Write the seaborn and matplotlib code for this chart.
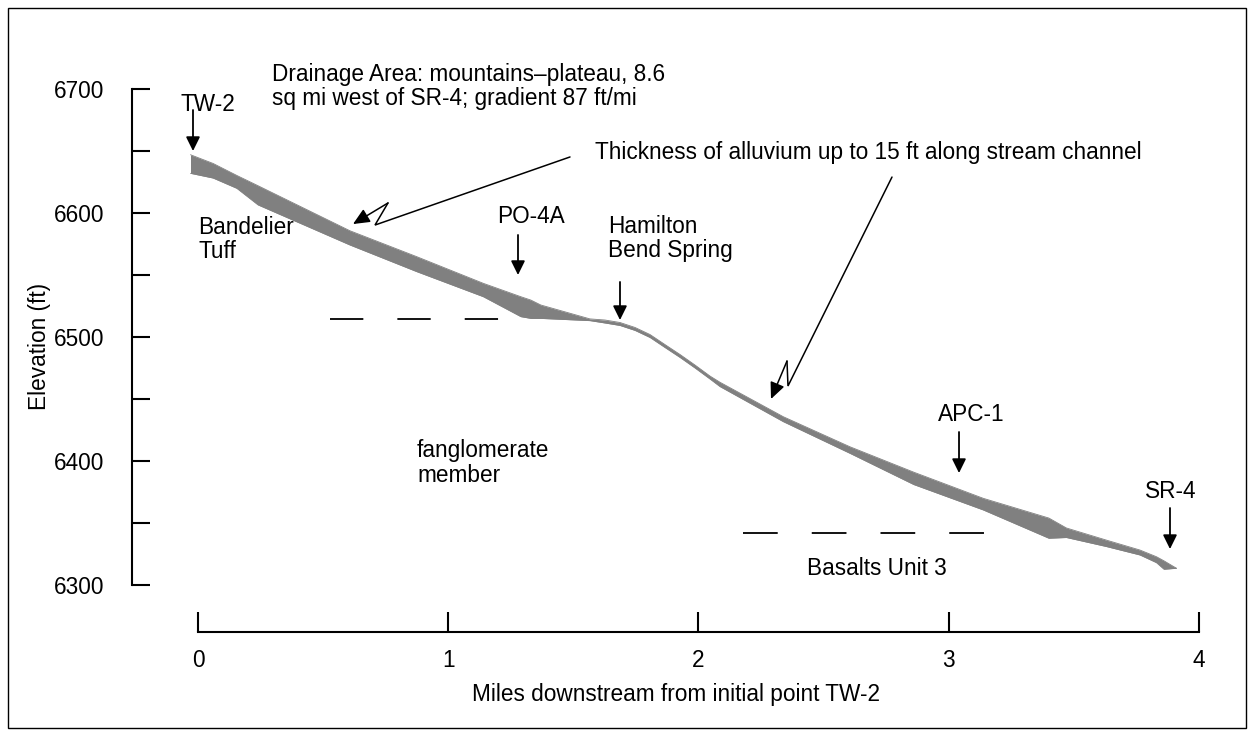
import numpy as np
import pandas as pd
import matplotlib
matplotlib.use("Agg")
import matplotlib.pyplot as plt
from matplotlib.patches import Rectangle
import seaborn as sns

# ---------------- data ----------------
miles = [-0.03, 0.06, 0.155, 0.24, 0.607, 0.874, 1.14, 1.29, 1.33, 1.37, 1.5664,
         1.6264, 1.6863, 1.7463, 1.8062, 1.8661, 1.9261, 1.9860, 2.0460, 2.0859,
         2.339, 2.605, 2.86, 3.138, 3.40, 3.47, 3.63, 3.764, 3.83, 3.86, 3.91]
top_of_alluvium = [6647, 6640, 6630.3, 6622, 6585.7, 6564.8, 6543.3, 6532.5, 6529.8,
                   6525.8, 6514.6, 6513.7, 6511.7, 6507.7, 6502.0, 6493.9, 6485.9,
                   6477.4, 6468.5, 6463.5, 6435.7, 6411.5, 6391, 6369.9, 6354, 6346,
                   6336.2, 6328.2, 6322.8, 6319.5, 6313.5]
base_of_alluvium = [6632, 6628.2, 6619.9, 6606.5, 6574.2, 6552.7, 6532.5, 6516.4, 6515,
                    6515, 6513.2, 6511.3, 6509.3, 6505.3, 6499.6, 6491.5, 6483.5,
                    6475.0, 6466.1, 6460, 6431.7, 6406.2, 6381, 6360.5, 6337.7, 6338.3,
                    6331, 6324.2, 6318, 6312.7, 6313.5]

contact_upper_x = [0.527, 1.33]      # fanglomerate / Bandelier contact
contact_upper_y = 6514.5
contact_lower_x = [2.178, 3.145]     # Basalts Unit 3 contact
contact_lower_y = 6341.7

wells = ["TW-2", "PO-4A", "Hamilton\nBend Spring", "APC-1", "SR-4"]
well_x = [-0.02, 1.2787, 1.6863, 3.041, 3.8841]
well_arrow_top = [6683.1, 6582.3, 6544.4, 6423.4, 6362.1]
well_arrow_tip = [6650.0, 6550.0, 6513.7, 6390.3, 6329.0]

y_major = [6300, 6400, 6500, 6600, 6700]
y_minor = [6350, 6450, 6550, 6650]
x_major = [0, 1, 2, 3, 4]

# ---------------- style ----------------
sns.set_style("white")
plt.rcParams["font.family"] = ["Liberation Sans", "DejaVu Sans"]
plt.rcParams["lines.scale_dashes"] = False
FS = 16.3

fig = plt.figure(figsize=(12.55, 7.36), dpi=100)
ax = fig.add_axes([132 / 1255, 104 / 736, 1088 / 1255, 572 / 736])
ax.set_xlim(-0.26374, 4.08392)
ax.set_ylim(6262.1, 6723.4)

gray = "#808080"
df = pd.DataFrame({"mile": miles, "top": top_of_alluvium, "base": base_of_alluvium})
ax.fill_between(df["mile"], df["base"], df["top"], color=gray, linewidth=0)
sns.lineplot(data=df, x="mile", y="top", color=gray, lw=0.6, ax=ax, sort=False)
sns.lineplot(data=df, x="mile", y="base", color=gray, lw=0.6, ax=ax, sort=False)

# dashed contacts
ax.plot(contact_upper_x, [contact_upper_y] * 2, color="black", lw=1.3, dashes=(24, 24.5))
ax.plot(contact_lower_x, [contact_lower_y] * 2, color="black", lw=1.3, dashes=(25, 24.5))

# well arrows
aprops = dict(arrowstyle="-|>,head_length=0.85,head_width=0.42", color="black",
              lw=1.3, shrinkA=0, shrinkB=0, mutation_scale=10)
for wx, y0, y1 in zip(well_x, well_arrow_top, well_arrow_tip):
    ax.annotate("", xy=(wx, y1), xytext=(wx, y0), arrowprops=aprops)

# callout lightning arrows
callouts = [
    [(1.4865, 6645.2), (0.7073, 6590.3), (0.7592, 6608.1), (0.6194, 6591.1)],
    [(2.7732, 6629.0), (2.3576, 6460.5), (2.3536, 6480.6), (2.2897, 6450.0)],
]
for pts in callouts:
    xs, ys = zip(*pts[:-1])
    ax.plot(xs, ys, color="black", lw=1.1, solid_joinstyle="miter")
    ax.annotate("", xy=pts[-1], xytext=pts[-2],
                arrowprops=dict(arrowstyle="-|>,head_length=1.0,head_width=0.45",
                                color="black", lw=1.1, shrinkA=0, shrinkB=0,
                                mutation_scale=10))

# text labels
txt = dict(fontsize=FS, color="black", ha="left", va="center", linespacing=1.08)
ax.text(0.2957, 6702.2, "Drainage Area: mountains\u2013plateau, 8.6\nsq mi west of SR-4; gradient 87 ft/mi", **txt)
ax.text(-0.068, 6687.9, wells[0], **txt)
ax.text(1.5864, 6648.4, "Thickness of alluvium up to 15 ft along stream channel", **txt)
ax.text(0.0, 6578.6, "Bandelier\nTuff", **txt)
ax.text(1.1948, 6596.8, wells[1], **txt)
ax.text(1.6384, 6579.5, wells[2], **txt)
ax.text(0.8751, 6398.4, "fanglomerate\nmember", **txt)
ax.text(2.957, 6437.9, wells[3], **txt)
ax.text(3.7842, 6375.8, wells[4], **txt)
ax.text(2.4336, 6313.7, "Basalts Unit 3", **txt)

# axes
for s in ["top", "right"]:
    ax.spines[s].set_visible(False)
for s in ["left", "bottom"]:
    ax.spines[s].set_linewidth(1.5)
    ax.spines[s].set_color("black")
ax.spines["left"].set_bounds(6300, 6700)
ax.spines["bottom"].set_bounds(0, 4)
ax.set_yticks(y_major)
ax.set_yticks(y_minor, minor=True)
ax.set_xticks(x_major)
ax.set_yticklabels([str(v) for v in y_major])
ax.set_xticklabels([str(v) for v in x_major])
ax.tick_params(axis="y", which="both", direction="in", length=13, width=1.5,
               pad=20, labelsize=FS, left=True, colors="black")
ax.tick_params(axis="x", which="both", direction="in", length=14.5, width=1.5,
               pad=12, labelsize=FS, bottom=True, colors="black")
ax.set_xlabel("Miles downstream from initial point TW-2", fontsize=FS, labelpad=8,
              color="black")
ax.set_ylabel("Elevation (ft)", fontsize=FS, labelpad=2, color="black")

fig.patches.append(Rectangle((8 / 1255, 8 / 736), 1238 / 1255, 720 / 736,
                             transform=fig.transFigure, fill=False,
                             edgecolor="black", lw=1.0))

fig.savefig("out.png", dpi=100)
